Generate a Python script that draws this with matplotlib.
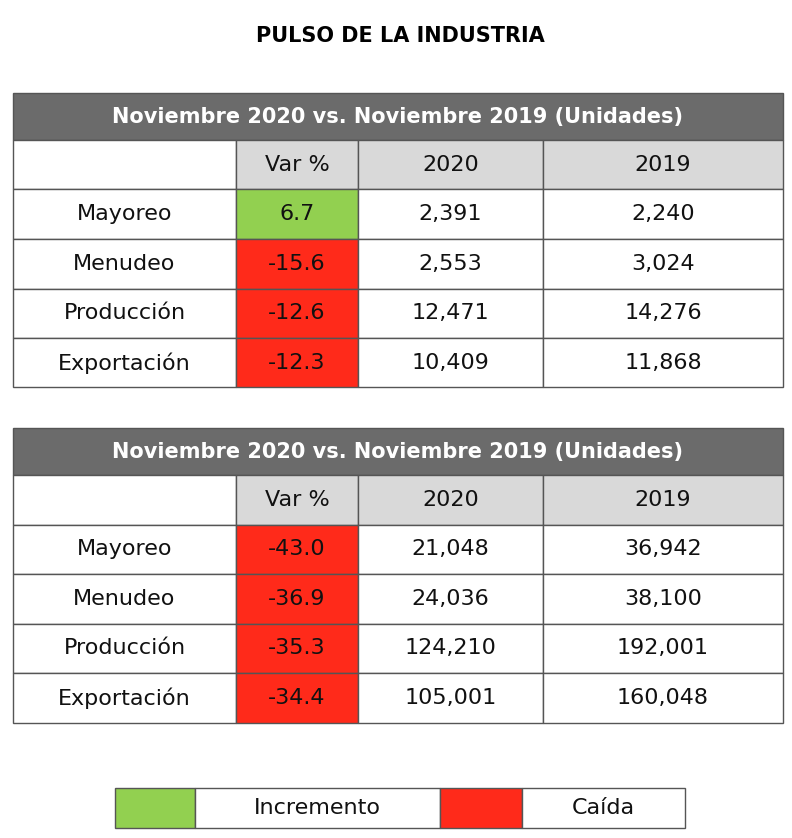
import matplotlib
matplotlib.use("Agg")
import matplotlib.pyplot as plt
from matplotlib.patches import Rectangle

title = "PULSO DE LA INDUSTRIA"
header = "Noviembre 2020 vs. Noviembre 2019 (Unidades)"
col_labels = ["Var %", "2020", "2019"]
categories = ["Mayoreo", "Menudeo", "Producción", "Exportación"]
t1_var = [6.7, -15.6, -12.6, -12.3]
t1_2020 = [2391, 2553, 12471, 10409]
t1_2019 = [2240, 3024, 14276, 11868]
t2_var = [-43.0, -36.9, -35.3, -34.4]
t2_2020 = [21048, 24036, 124210, 105001]
t2_2019 = [36942, 38100, 192001, 160048]
legend_labels = ["Incremento", "Caída"]

GREEN = "#92d050"
RED = "#ff2a1a"
DARK = "#6b6b6b"
LIGHT = "#d9d9d9"
EDGE = "#555555"

W, H = 792, 838
fig = plt.figure(figsize=(W / 100, H / 100), dpi=100)
ax = fig.add_axes([0, 0, 1, 1])
ax.set_xlim(0, W)
ax.set_ylim(H, 0)
ax.axis("off")

FONT = "DejaVu Sans"

def rect(x0, y0, x1, y1, fc, lw=1.0):
    ax.add_patch(Rectangle((x0, y0), x1 - x0, y1 - y0, facecolor=fc, edgecolor=EDGE, lw=lw))

def txt(x, y, s, size=16, weight="normal", color="#111111"):
    ax.text(x, y, s, ha="center", va="center", fontsize=size, fontweight=weight, color=color, family=FONT)

ax.text(400, 36, title, ha="center", va="center", fontsize=15, fontweight="bold", family=FONT)

cols = [13, 236, 358, 543, 783]

def table(top, var, v20, v19):
    hb = top + 47
    rect(cols[0], top, cols[-1], hb, DARK)
    txt((cols[0] + cols[-1]) / 2, (top + hb) / 2, header, size=15, weight="bold", color="white")
    rh = 49.5
    y = hb
    rect(cols[0], y, cols[1], y + rh, "white")
    for i, lab in enumerate(col_labels):
        rect(cols[i + 1], y, cols[i + 2], y + rh, LIGHT)
        txt((cols[i + 1] + cols[i + 2]) / 2, y + rh / 2, lab)
    for k, cat in enumerate(categories):
        y0 = hb + rh * (k + 1)
        rect(cols[0], y0, cols[1], y0 + rh, "white")
        txt((cols[0] + cols[1]) / 2, y0 + rh / 2, cat)
        rect(cols[1], y0, cols[2], y0 + rh, GREEN if var[k] >= 0 else RED)
        txt((cols[1] + cols[2]) / 2, y0 + rh / 2, f"{var[k]:.1f}")
        rect(cols[2], y0, cols[3], y0 + rh, "white")
        txt((cols[2] + cols[3]) / 2, y0 + rh / 2, f"{v20[k]:,}")
        rect(cols[3], y0, cols[4], y0 + rh, "white")
        txt((cols[3] + cols[4]) / 2, y0 + rh / 2, f"{v19[k]:,}")

table(93, t1_var, t1_2020, t1_2019)
table(428, t2_var, t2_2020, t2_2019)

ly0, ly1 = 788, 828
lx = [115, 195, 440, 522, 685]
rect(lx[0], ly0, lx[1], ly1, GREEN)
rect(lx[1], ly0, lx[2], ly1, "white")
rect(lx[2], ly0, lx[3], ly1, RED)
rect(lx[3], ly0, lx[4], ly1, "white")
txt((lx[1] + lx[2]) / 2, (ly0 + ly1) / 2, legend_labels[0])
txt((lx[3] + lx[4]) / 2, (ly0 + ly1) / 2, legend_labels[1])

fig.savefig("out.png", dpi=100)
